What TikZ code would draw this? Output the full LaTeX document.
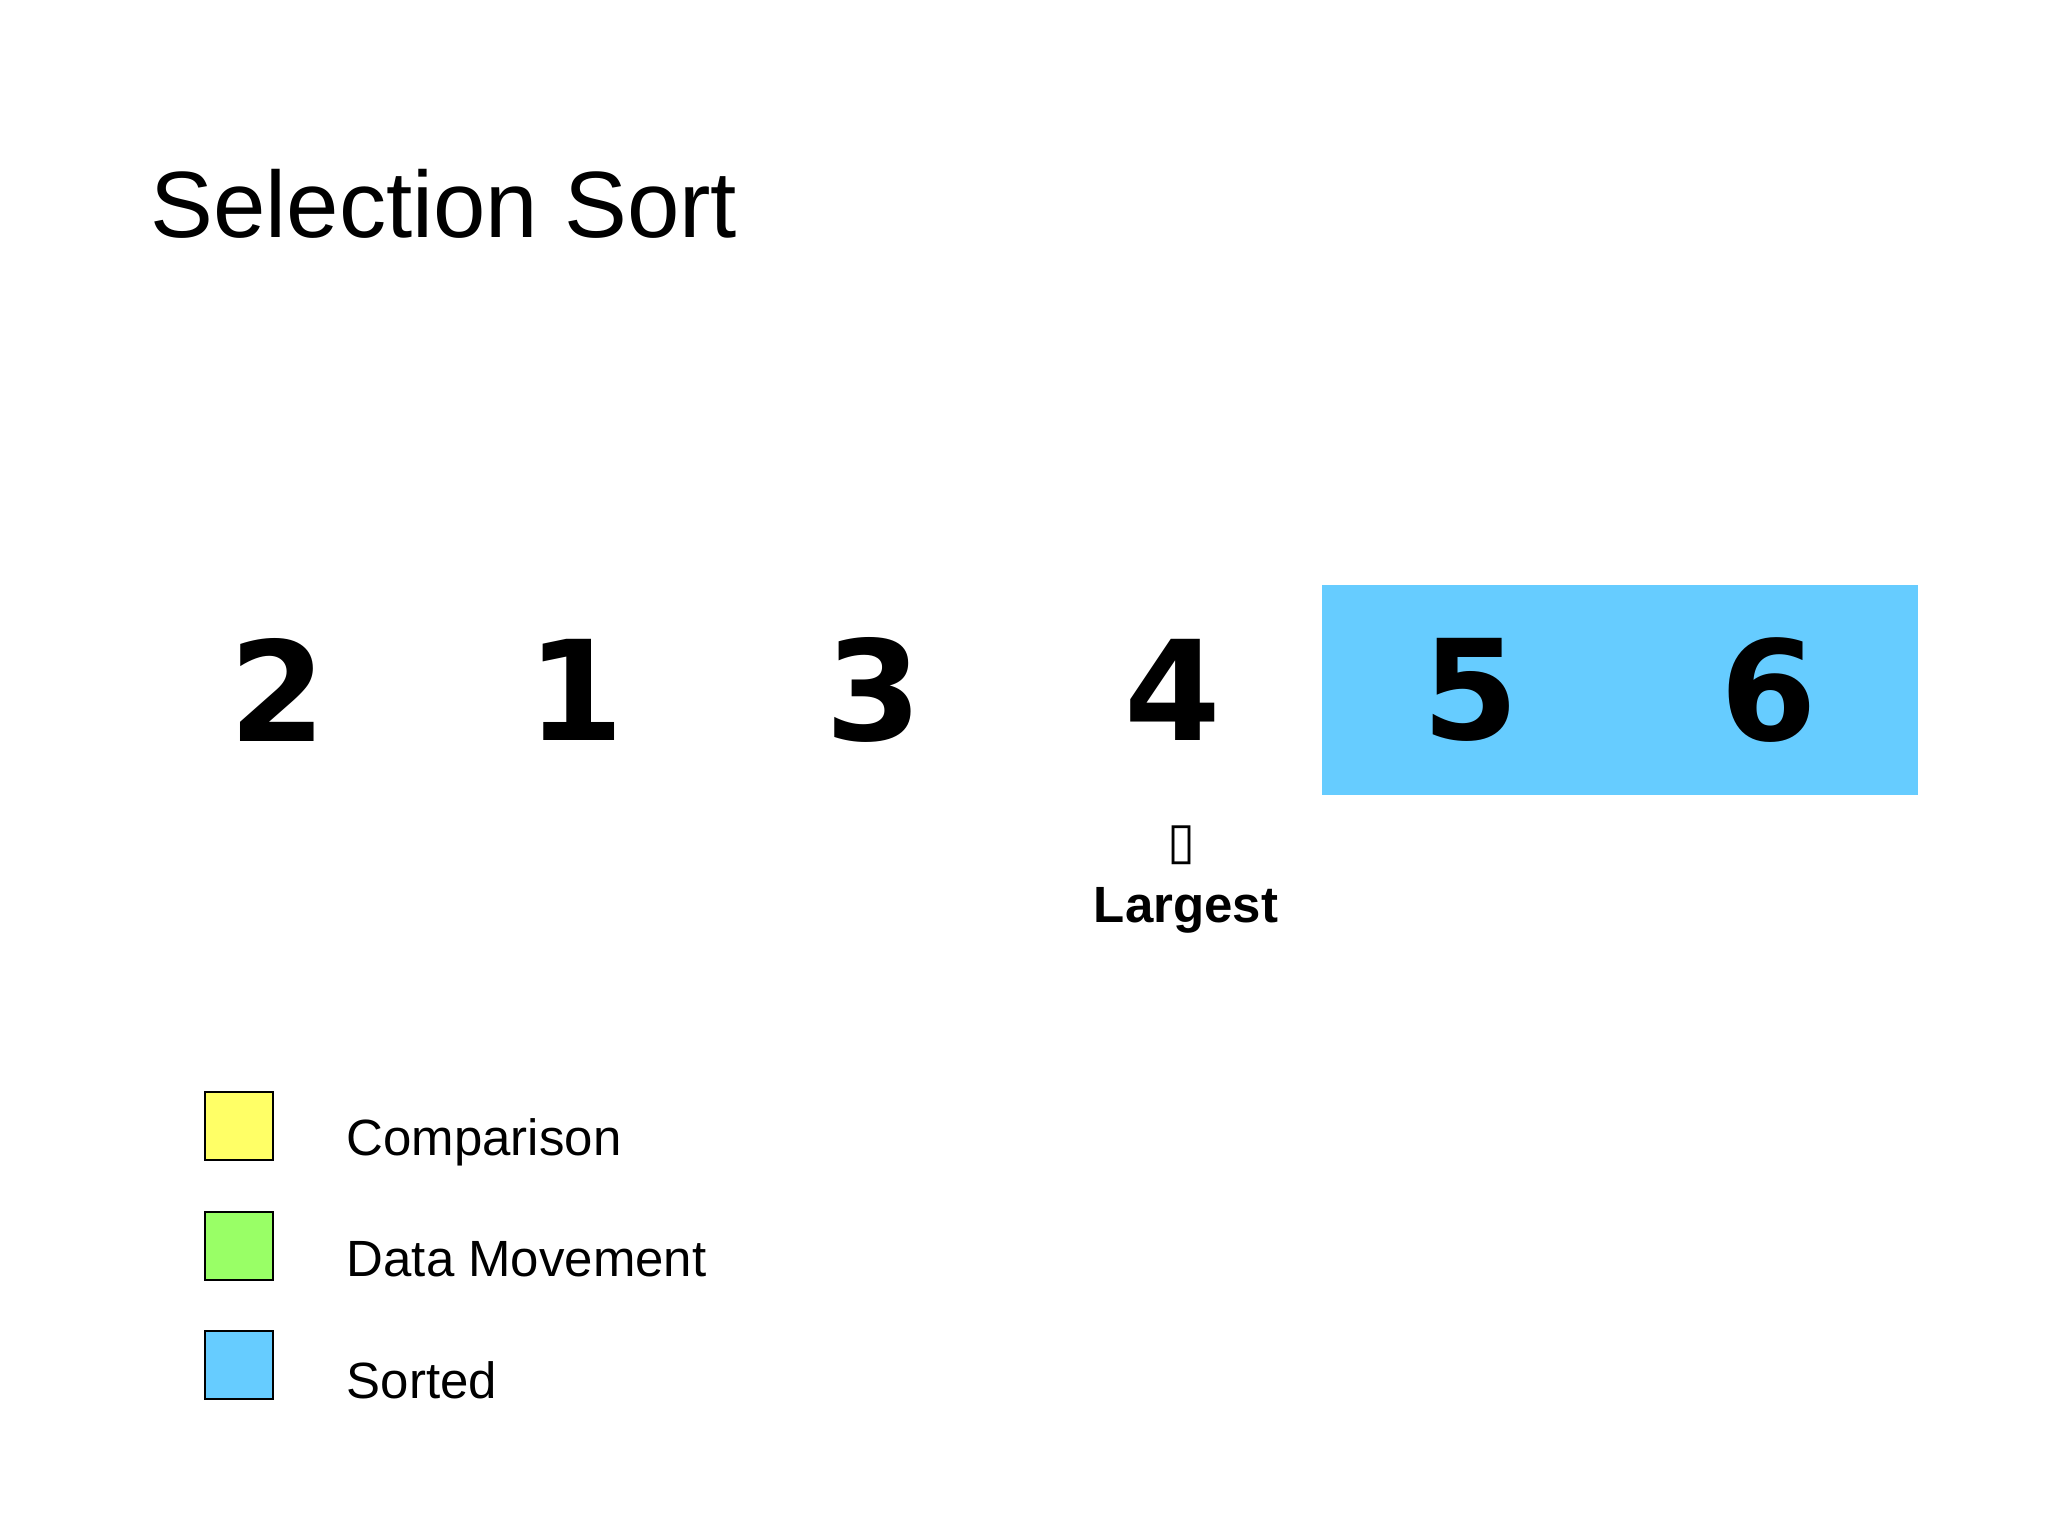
\documentclass[tikz,border=0pt]{standalone}
\usepackage{fontspec}
\setmainfont{Liberation Sans}
\newfontfamily\digitfont{DejaVu Sans}
\newfontfamily\symfont{DejaVu Sans}
\definecolor{cmpyellow}{HTML}{FFFF66}
\definecolor{movegreen}{HTML}{99FF66}
\definecolor{sortblue}{HTML}{66CCFF}
\begin{document}
\begin{tikzpicture}[x=0.1mm,y=-0.1mm,
  cell/.style={minimum width=29.8mm,minimum height=21mm,inner sep=0pt,outer sep=0pt,
    font=\digitfont\bfseries\fontsize{39.5}{46}\selectfont},
  sortedcell/.style={cell,fill=sortblue},
  legbox/.style={draw=black,line width=0.6pt,minimum size=6.8mm,inner sep=0pt},
  leglabel/.style={anchor=base west,inner sep=0pt,font=\fontsize{14.5}{17}\selectfont},
  title/.style={anchor=base west,inner sep=0pt,font=\fontsize{26.8}{32}\selectfont}]
\useasboundingbox (0,0) rectangle (2048,1536);
\node[title] (title) at (150,237) {Selection Sort};
\node[cell] (c1) at (278,690) {2};
\node[cell] (c2) at (576,690) {1};
\node[cell] (c3) at (874,690) {3};
\node[cell] (c4) at (1173,690) {4};
\node[sortedcell] (c5) at (1471,690) {5};
\node[sortedcell] (c6) at (1769,690) {6};
\node[inner sep=0pt,font=\symfont\fontsize{14.5}{17}\selectfont] (mark) at (1182,845) {▯};
\node[anchor=base,inner sep=0pt,font=\bfseries\fontsize{14.5}{17}\selectfont] (largest) at (1186,922) {Largest};
\node[legbox,fill=cmpyellow] (k1) at (239,1126) {};
\node[legbox,fill=movegreen] (k2) at (239,1246) {};
\node[legbox,fill=sortblue] (k3) at (239,1365) {};
\node[leglabel] (l1) at (346,1155) {Comparison};
\node[leglabel] (l2) at (346,1276) {Data Movement};
\node[leglabel] (l3) at (346,1398) {Sorted};
\end{tikzpicture}
\end{document}
